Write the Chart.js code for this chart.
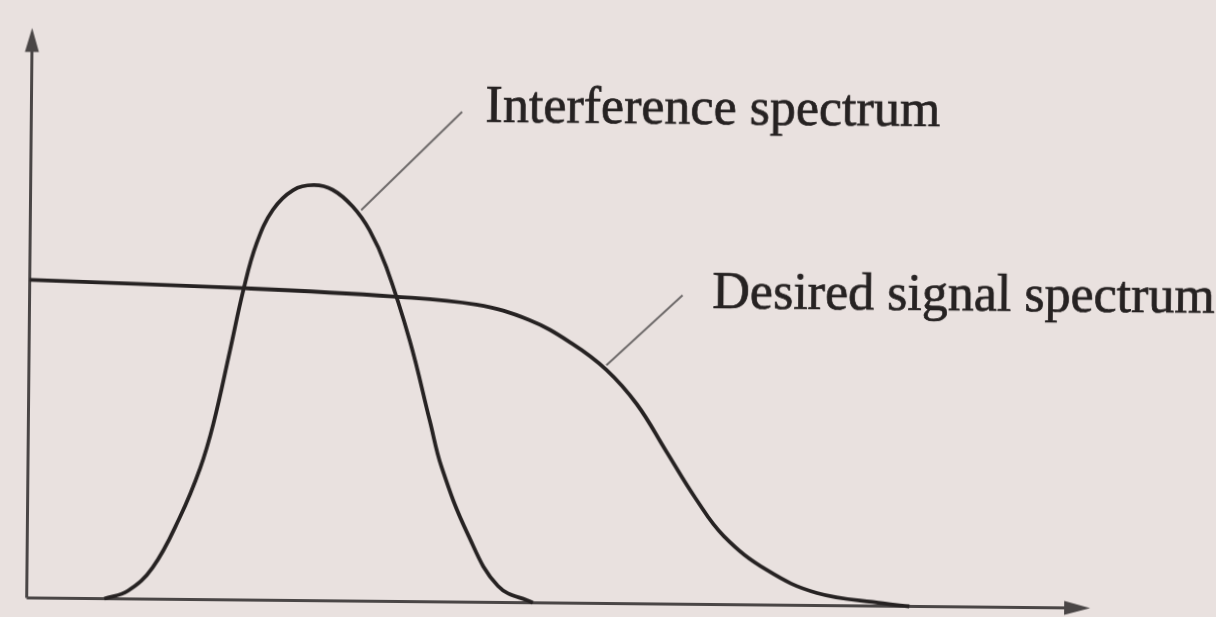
<!DOCTYPE html>
<html>
<head>
<meta charset="utf-8">
<script src="https://cdn.jsdelivr.net/npm/chart.js@4.4.1/dist/chart.umd.min.js"></script>
<style>
    html, body { margin: 0; padding: 0; background: #e9e1df; overflow: hidden; }
    /* the printed figure sits slightly skewed on the page */
    #spectrum { display: block; transform: rotate(0.55deg); transform-origin: 608px 308px; }
</style>
</head>
<body>
<canvas id="spectrum" width="1216" height="617"></canvas>
<script>
// frequency (x) and relative amplitude (y), both on a 0..100 scale
var interferenceX = [7.3, 9.5, 11.8, 14.3, 16.2, 17.4, 18.9, 20.1, 21.3, 22.8, 24.7, 26.6, 28.4, 30.3, 31.9, 33.5, 35.8, 37.75, 38.9, 41.4, 44.3, 47.6];
var interferenceY = [0, 1.4, 5.5, 14.3, 23.1, 30.9, 43.8, 54.4, 62.6, 68.5, 72.0, 72.9, 72.1, 69.2, 65.1, 58.7, 45.7, 31.7, 23.6, 12.0, 2.9, 0];

var desiredX = [0, 20.1, 34.2, 42, 47, 51, 54.3, 57.2, 60, 62.8, 65.5, 69.6, 74.3, 80.5, 83];
var desiredY = [55.8, 54.7, 53.5, 52.2, 49.6, 45.6, 41.0, 35.0, 26.8, 18.6, 12.0, 6.1, 2.2, 0.5, 0];

var labels = ['Interference spectrum', 'Desired signal spectrum'];

var inkColor = '#262222';
var axisColor = '#4a4646';
var leaderColor = '#6e6a6a';

function toPoints(xs, ys) {
    var pts = [];
    for (var i = 0; i < xs.length; i++) {
        pts.push({ x: xs[i], y: ys[i] });
    }
    return pts;
}

// leader lines and text anchors, in data units
var callouts = [
    { text: labels[0], from: [31.1, 68.6], to: [40.5, 86.0], at: [42.7, 84.3] },
    { text: labels[1], from: [54.3, 41.8], to: [61.4, 54.2], at: [64.2, 52.0] }
];

var axesPlugin = {
    id: 'axes',
    beforeDatasetsDraw: function (chart) {
        var ctx = chart.ctx;
        var xs = chart.scales.x, ys = chart.scales.y;
        var x0 = xs.getPixelForValue(0), y0 = ys.getPixelForValue(0);
        var x1 = xs.getPixelForValue(100), y1 = ys.getPixelForValue(100);
        ctx.save();
        ctx.strokeStyle = axisColor;
        ctx.fillStyle = axisColor;
        ctx.lineWidth = 3;
        ctx.beginPath();
        ctx.moveTo(x0, y0);
        ctx.lineTo(x1 - 20, y0);
        ctx.moveTo(x0, y0);
        ctx.lineTo(x0, y1 + 18);
        ctx.stroke();
        // arrow heads
        ctx.beginPath();
        ctx.moveTo(x1, y0);
        ctx.lineTo(x1 - 26, y0 - 7);
        ctx.lineTo(x1 - 26, y0 + 7);
        ctx.closePath();
        ctx.fill();
        ctx.beginPath();
        ctx.moveTo(x0, y1);
        ctx.lineTo(x0 - 7, y1 + 24);
        ctx.lineTo(x0 + 7, y1 + 24);
        ctx.closePath();
        ctx.fill();
        ctx.restore();
    }
};

var calloutPlugin = {
    id: 'callouts',
    afterDatasetsDraw: function (chart) {
        var ctx = chart.ctx;
        var xs = chart.scales.x, ys = chart.scales.y;
        ctx.save();
        ctx.font = '52px "Liberation Serif", "Times New Roman", serif';
        ctx.textBaseline = 'alphabetic';
        ctx.textAlign = 'left';
        callouts.forEach(function (c) {
            ctx.strokeStyle = leaderColor;
            ctx.lineWidth = 2;
            ctx.beginPath();
            ctx.moveTo(xs.getPixelForValue(c.from[0]), ys.getPixelForValue(c.from[1]));
            ctx.lineTo(xs.getPixelForValue(c.to[0]), ys.getPixelForValue(c.to[1]));
            ctx.stroke();
            var tx = xs.getPixelForValue(c.at[0]), ty = ys.getPixelForValue(c.at[1]);
            ctx.fillStyle = inkColor;
            ctx.fillText(c.text, tx, ty);
            // a little extra ink, printed type is heavier than the screen face
            ctx.strokeStyle = inkColor;
            ctx.lineWidth = 0.7;
            ctx.strokeText(c.text, tx, ty);
        });
        ctx.restore();
    }
};

var ctx = document.getElementById('spectrum').getContext('2d');

var spectrumChart = new Chart(ctx, {
    type: 'line',
    data: {
        datasets: [{
            label: labels[1],
            data: toPoints(desiredX, desiredY),
            borderColor: inkColor,
            borderWidth: 3.8,
            tension: 0.4,
            pointRadius: 0,
            fill: false,
            clip: false
        }, {
            label: labels[0],
            data: toPoints(interferenceX, interferenceY),
            borderColor: inkColor,
            borderWidth: 3.8,
            tension: 0.4,
            pointRadius: 0,
            fill: false,
            clip: false
        }]
    },
    options: {
        responsive: false,
        animation: false,
        events: [],
        layout: {
            padding: { left: 29.5, right: 123, top: 33.5, bottom: 13.5 }
        },
        scales: {
            x: { type: 'linear', min: 0, max: 100, display: false },
            y: { type: 'linear', min: 0, max: 100, display: false }
        },
        plugins: {
            legend: { display: false },
            tooltip: { enabled: false }
        }
    },
    plugins: [axesPlugin, calloutPlugin]
});
</script>
</body>
</html>
